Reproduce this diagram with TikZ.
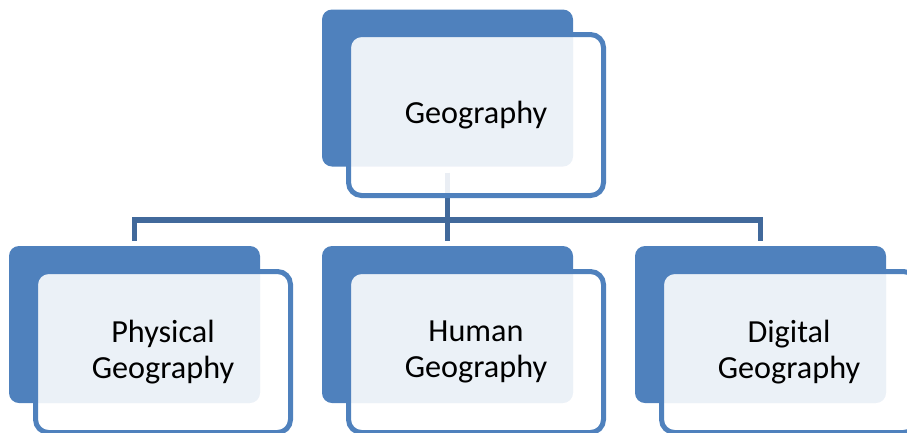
\documentclass[tikz,border=0pt]{standalone}
\usepackage{fontspec}
\setmainfont{Carlito}
\definecolor{accent}{HTML}{4F81BD}
\definecolor{connc}{HTML}{41699B}
\begin{document}
\begin{tikzpicture}[x=1pt,y=-1pt,
  darkbox/.style={fill=accent, rounded corners=10pt, minimum width=251pt, minimum height=157pt, inner sep=0pt, outer sep=0pt},
  lightbox/.style={draw=accent, line width=5pt, fill=white, fill opacity=0.89, text opacity=1, rounded corners=13pt, minimum width=255pt, minimum height=161pt, inner sep=0pt, outer sep=0pt, align=center, font=\fontsize{32.2}{36}\selectfont, text=black},
  conn/.style={draw=connc, line width=5.5pt}]
\useasboundingbox (0,0) rectangle (907,432);
\clip (0,0) rectangle (907,432);
% dark back boxes
\node[darkbox] (td) at (447.5,88) {};
\node[darkbox] (ld) at (134.5,324.5) {};
\node[darkbox] (md) at (447.5,324.5) {};
\node[darkbox] (rd) at (760.5,324.5) {};
% connectors
\coordinate (bus) at (448,220);
\draw[conn] ([yshift=-6pt]td.south) -- ([yshift=5pt]md.north);
\draw[conn] ([yshift=5pt]ld.north) -- (ld.north |- bus) -- (rd.north |- bus) -- ([yshift=5pt]rd.north);
% light front boxes
\node[lightbox] (tl) at (476,115) {Geography};
\node[lightbox] (ll) at (163,352) {Physical\\Geography};
\node[lightbox] (ml) at (476,352) {Human\\Geography};
\node[lightbox] (rl) at (789,352) {Digital\\Geography};
\end{tikzpicture}
\end{document}
